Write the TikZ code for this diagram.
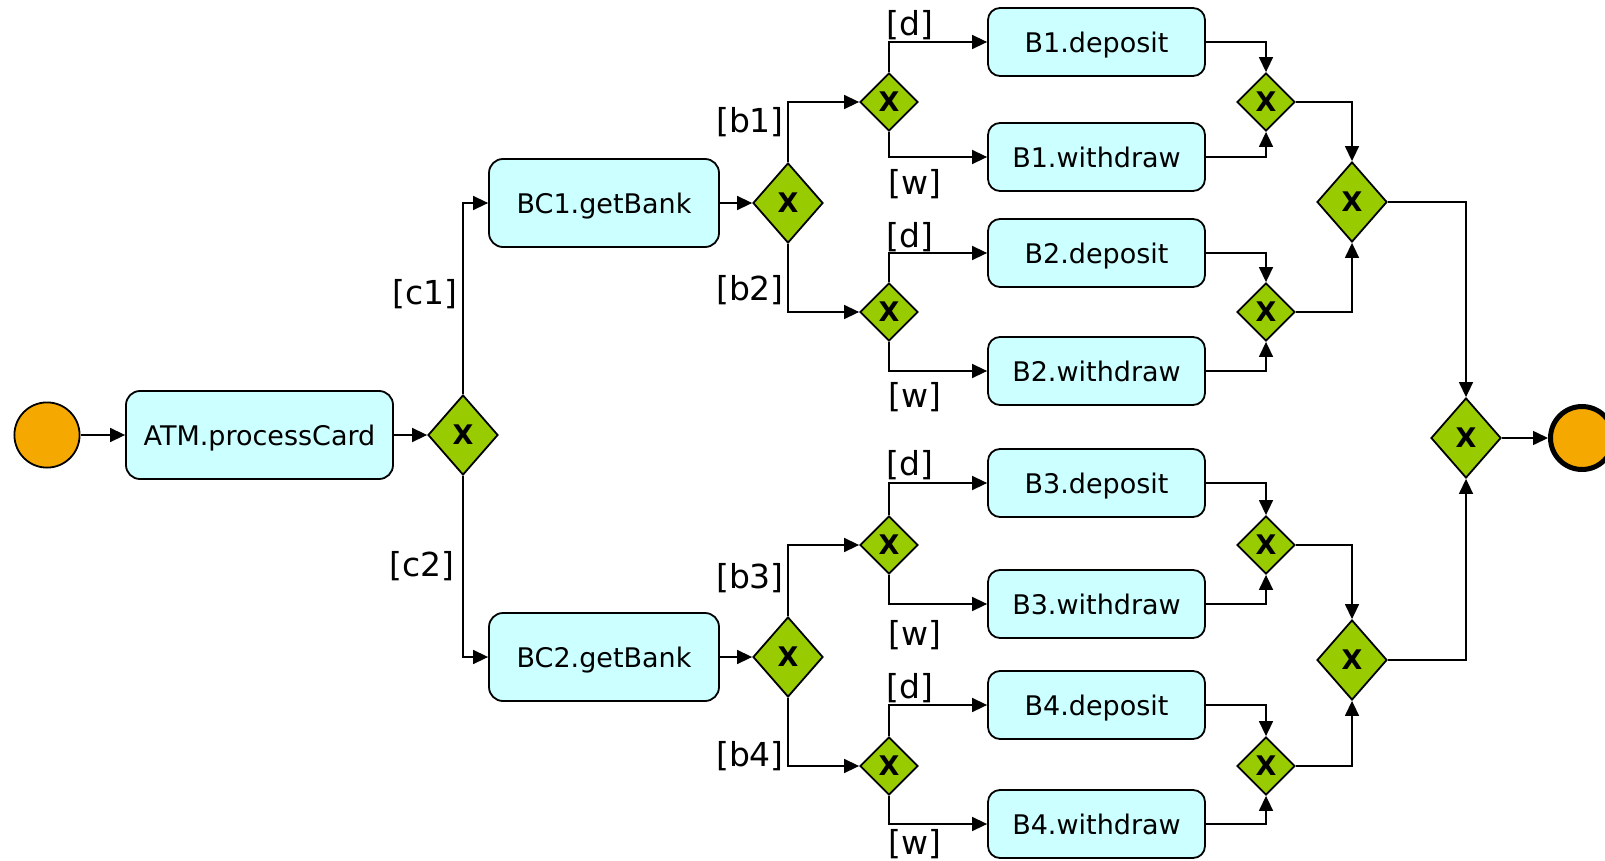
\documentclass[tikz,border=0pt]{standalone}
\usepackage{fontspec}
\setmainfont{DejaVu Sans}
\usetikzlibrary{arrows.meta,positioning,shapes.geometric}
\definecolor{taskcyan}{HTML}{CCFFFF}
\definecolor{gatewaygreen}{HTML}{99CC00}
\definecolor{eventorange}{HTML}{F5A800}
\tikzset{
    >={Triangle[length=7.5pt,width=7pt]},
    task/.style={
      rectangle,
      rounded corners=6pt,
      draw=black, line width=0.9pt,
      fill=taskcyan,
      font=\fontsize{13.5}{16}\selectfont,
      text depth=0pt,
      minimum width=108.5pt,
      minimum height=34pt,
      text centered},
    bigtask/.style={task, rounded corners=7pt, minimum height=44pt},
    gateway/.style={
      diamond,
      draw=black, line width=0.9pt,
      fill=gatewaygreen,
      inner sep=0pt,
      minimum width=35pt,
      minimum height=40pt,
      font=\fontsize{13.5}{16}\selectfont\bfseries},
    smallgateway/.style={gateway, minimum width=29pt, minimum height=29pt},
    startevent/.style={circle, draw=black, line width=0.9pt, fill=eventorange, minimum size=32.6pt},
    endevent/.style={circle, draw=black, line width=2.5pt, fill=eventorange, minimum size=31.5pt},
    line/.style={draw, line width=0.75pt, ->},
    guard/.style={font=\fontsize{16.5}{19}\selectfont, inner sep=1pt, yshift=-1pt},
}

\begin{document}
\begin{tikzpicture}[x=0.5pt,y=-0.5pt]
    \useasboundingbox (0,0) rectangle (1605,861);

    % card check and the two bank lookups
    \node[startevent] (start) at (47,435) {};
    \node[bigtask, minimum width=133.5pt] (atm) at (259.5,435) {ATM.processCard};
    \node[gateway] (gwcard) at (463,435) {X};
    \node[bigtask, minimum width=115pt] (bc1) at (604,203) {BC1.getBank};
    \node[bigtask, minimum width=115pt] (bc2) at (604,657) {BC2.getBank};
    \node[gateway] (gwbank1) at (788,203) {X};
    \node[gateway] (gwbank2) at (788,657) {X};

    % choice of operation per bank
    \node[smallgateway] (gwop1) at (889,102) {X};
    \node[smallgateway] (gwop2) at (889,312) {X};
    \node[smallgateway] (gwop3) at (889,545) {X};
    \node[smallgateway] (gwop4) at (889,766) {X};

    \node[task] (dep1) at (1096.5,42)  {B1.deposit};
    \node[task] (wd1)  at (1096.5,157) {B1.withdraw};
    \node[task] (dep2) at (1096.5,253) {B2.deposit};
    \node[task] (wd2)  at (1096.5,371) {B2.withdraw};
    \node[task] (dep3) at (1096.5,483) {B3.deposit};
    \node[task] (wd3)  at (1096.5,604) {B3.withdraw};
    \node[task] (dep4) at (1096.5,705) {B4.deposit};
    \node[task] (wd4)  at (1096.5,824) {B4.withdraw};

    % merging back
    \node[smallgateway] (mrg1) at (1266,102) {X};
    \node[smallgateway] (mrg2) at (1266,312) {X};
    \node[smallgateway] (mrg3) at (1266,545) {X};
    \node[smallgateway] (mrg4) at (1266,766) {X};
    \node[gateway] (mrgbank1) at (1352,202) {X};
    \node[gateway] (mrgbank2) at (1352,660) {X};
    \node[gateway] (mrgall) at (1466,438) {X};
    \node[endevent] (finish) at (1582,438) {};

    % guards
    \node[guard] (c1) at (425,292) {[c1]};
    \node[guard] (c2) at (422,564) {[c2]};
    \node[guard] (b1) at (750,120) {[b1]};
    \node[guard] (b2) at (750,288) {[b2]};
    \node[guard] (b3) at (750,576) {[b3]};
    \node[guard] (b4) at (750,754) {[b4]};
    \node[guard] (d1) at (910,23)  {[d]};
    \node[guard] (d2) at (910,235) {[d]};
    \node[guard] (d3) at (910,463) {[d]};
    \node[guard] (d4) at (910,686) {[d]};
    \node[guard] (w1) at (915,182) {[w]};
    \node[guard] (w2) at (915,395) {[w]};
    \node[guard] (w3) at (915,633) {[w]};
    \node[guard] (w4) at (915,842) {[w]};

    \draw[line] (start) -- (atm);
    \draw[line] (atm) -- (gwcard);
    \draw[line] (gwcard.north) |- (bc1);
    \draw[line] (gwcard.south) |- (bc2);
    \draw[line] (bc1) -- (gwbank1);
    \draw[line] (bc2) -- (gwbank2);
    \draw[line] (gwbank1.north) |- (gwop1);
    \draw[line] (gwbank1.south) |- (gwop2);
    \draw[line] (gwbank2.north) |- (gwop3);
    \draw[line] (gwbank2.south) |- (gwop4);

    \draw[line] (gwop1.north) |- (dep1);
    \draw[line] (gwop1.south) |- (wd1);
    \draw[line] (gwop2.north) |- (dep2);
    \draw[line] (gwop2.south) |- (wd2);
    \draw[line] (gwop3.north) |- (dep3);
    \draw[line] (gwop3.south) |- (wd3);
    \draw[line] (gwop4.north) |- (dep4);
    \draw[line] (gwop4.south) |- (wd4);

    \draw[line] (dep1) -| (mrg1.north);
    \draw[line] (wd1) -| (mrg1.south);
    \draw[line] (dep2) -| (mrg2.north);
    \draw[line] (wd2) -| (mrg2.south);
    \draw[line] (dep3) -| (mrg3.north);
    \draw[line] (wd3) -| (mrg3.south);
    \draw[line] (dep4) -| (mrg4.north);
    \draw[line] (wd4) -| (mrg4.south);

    \draw[line] (mrg1) -| (mrgbank1.north);
    \draw[line] (mrg2) -| (mrgbank1.south);
    \draw[line] (mrg3) -| (mrgbank2.north);
    \draw[line] (mrg4) -| (mrgbank2.south);
    \draw[line] (mrgbank1) -| (mrgall.north);
    \draw[line] (mrgbank2) -| (mrgall.south);
    \draw[line] (mrgall) -- (finish);
\end{tikzpicture}
\end{document}
